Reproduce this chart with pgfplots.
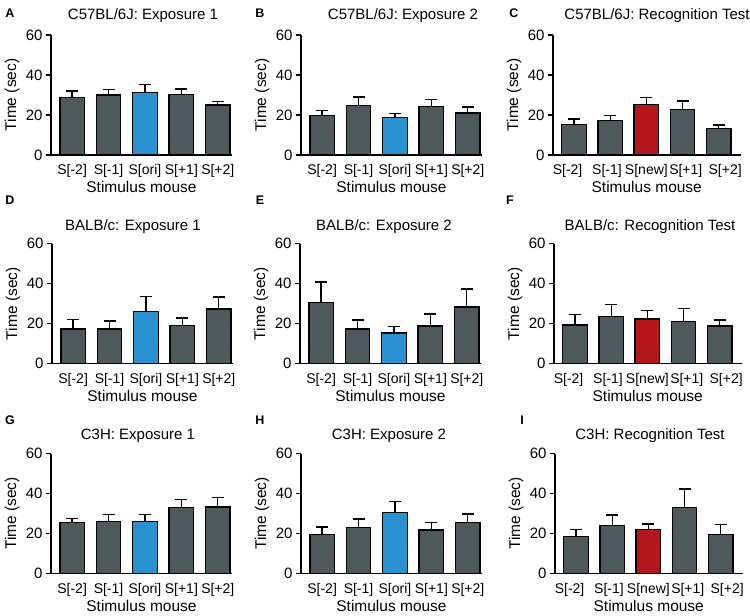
\documentclass[border=0pt]{standalone}
\usepackage{fontspec}
\setmainfont{Liberation Sans}
\usepackage{pgfplots}
\pgfplotsset{compat=1.18}
\definecolor{barg}{HTML}{4E595B}
\definecolor{barb}{HTML}{2A92D0}
\definecolor{barr}{HTML}{B3161B}
\pgfplotsset{
 panel/.style={
  scale only axis, width=181pt, height=120pt, anchor=south west,
  xmin=-0.58, xmax=4.39, ymin=0, ymax=60, enlargelimits=false,
  axis x line*=bottom, axis y line*=left,
  axis line style={line width=1.3pt,-},
  ytick={0,20,40,60}, xtick={0,1,2,3,4},
  tick align=outside, major tick length=5pt,
  ytick style={line width=1.3pt, black}, xtick style={draw=none},
  yticklabel style={font=\fontsize{15}{15}\selectfont},
  xticklabel style={font=\fontsize{14}{14}\selectfont, anchor=center, yshift=-11pt},
  /pgf/number format/assume math mode=true,
  ylabel={Time (sec)}, xlabel={Stimulus mouse},
  every axis y label/.style={at={(axis description cs:-0.215,0.5)}, rotate=90, anchor=center, font=\fontsize{15.5}{15.5}\selectfont},
  every axis x label/.style={at={(axis description cs:0.5,0)}, yshift=-32pt, anchor=center, font=\fontsize{15.5}{15.5}\selectfont},
  clip=false,
 },
 ori/.style={xticklabels={{S[-2]},{S[-1]},{S[ori]},{S[+1]},{S[+2]}}},
 new/.style={xticklabels={{S[-2]},{S[-1]},{S[new]},{S[+1]},{S[+2]}},
   width=187.5pt, xmax=4.6,
   every axis y label/.style={at={(axis description cs:-0.208,0.5)}, rotate=90, anchor=center, font=\fontsize{15.5}{15.5}\selectfont},
   xticklabel style={xshift={(\ticknum-2)*3.2pt}}},
 bb/.style={ybar, bar width=24.5pt, bar shift=0pt, draw=black, line width=1.3pt, fill=#1,
   error bars/.cd, y dir=plus, y explicit,
   error bar style={line width=1.3pt, black},
   error mark options={rotate=90, mark size=6pt, line width=1.3pt, black}},
}
\tikzset{ttl/.style={font=\fontsize{15}{15}\selectfont, anchor=center},
 lett/.style={font=\fontsize{12.5}{12.5}\selectfont\bfseries, anchor=center}}
\begin{document}
\begin{tikzpicture}[x=1pt,y=1pt]
\useasboundingbox (0,0) rectangle (750,616);
% ---------- Row 1
\begin{axis}[panel, ori, at={(51pt,461pt)}]
\addplot[bb=barg] coordinates {(0,28.7) +- (0,3.3) (1,30.0) +- (0,2.7) (3,30.3) +- (0,2.7) (4,25.0) +- (0,1.7)};
\addplot[bb=barb] coordinates {(2,31.3) +- (0,3.9)};
\end{axis}
\begin{axis}[panel, ori, at={(301pt,461pt)}]
\addplot[bb=barg] coordinates {(0,19.8) +- (0,2.4) (1,24.7) +- (0,4.3) (3,24.3) +- (0,3.4) (4,21.0) +- (0,3.0)};
\addplot[bb=barb] coordinates {(2,18.8) +- (0,1.9)};
\end{axis}
\begin{axis}[panel, new, at={(553pt,461pt)}]
\addplot[bb=barg] coordinates {(0,15.3) +- (0,2.7) (1,17.2) +- (0,2.5) (3,22.7) +- (0,4.3) (4,13.3) +- (0,1.7)};
\addplot[bb=barr] coordinates {(2,25.3) +- (0,3.4)};
\end{axis}
% ---------- Row 2
\begin{axis}[panel, ori, at={(52pt,252.3pt)}]
\addplot[bb=barg] coordinates {(0,17.3) +- (0,4.8) (1,17.3) +- (0,4.1) (3,19.1) +- (0,3.7) (4,27.4) +- (0,6.0)};
\addplot[bb=barb] coordinates {(2,26.2) +- (0,7.5)};
\end{axis}
\begin{axis}[panel, ori, at={(300pt,252.3pt)}]
\addplot[bb=barg] coordinates {(0,30.7) +- (0,10.2) (1,17.4) +- (0,4.5) (3,18.9) +- (0,6.0) (4,28.4) +- (0,9.0)};
\addplot[bb=barb] coordinates {(2,15.3) +- (0,3.3)};
\end{axis}
\begin{axis}[panel, new, at={(554pt,252.3pt)}]
\addplot[bb=barg] coordinates {(0,19.3) +- (0,5.3) (1,23.6) +- (0,6.1) (3,21.1) +- (0,6.6) (4,18.8) +- (0,3.1)};
\addplot[bb=barr] coordinates {(2,22.3) +- (0,4.4)};
\end{axis}
% ---------- Row 3
\begin{axis}[panel, ori, at={(51pt,42.5pt)}]
\addplot[bb=barg] coordinates {(0,25.4) +- (0,2.0) (1,26.0) +- (0,3.5) (3,33.0) +- (0,4.1) (4,33.2) +- (0,4.8)};
\addplot[bb=barb] coordinates {(2,26.0) +- (0,3.4)};
\end{axis}
\begin{axis}[panel, ori, at={(301pt,42.5pt)}]
\addplot[bb=barg] coordinates {(0,19.6) +- (0,3.7) (1,22.9) +- (0,4.3) (3,21.8) +- (0,3.8) (4,25.4) +- (0,4.3)};
\addplot[bb=barb] coordinates {(2,30.4) +- (0,5.6)};
\end{axis}
\begin{axis}[panel, new, at={(555pt,42.5pt)}]
\addplot[bb=barg] coordinates {(0,18.4) +- (0,3.7) (1,24.1) +- (0,5.1) (3,33.1) +- (0,9.1) (4,19.4) +- (0,5.0)};
\addplot[bb=barr] coordinates {(2,21.9) +- (0,2.9)};
\end{axis}
% ---------- Titles
\node[ttl] at (143,600) {C57BL/6J: Exposure 1};
\node[ttl] at (403,600) {C57BL/6J: Exposure 2};
\node[ttl] at (657,600) {C57BL/6J: Recognition Test};
\node[ttl] at (133,389) {BALB/c: Exposure 1};
\node[ttl] at (384,389) {BALB/c: Exposure 2};
\node[ttl] at (650,389) {BALB/c: Recognition Test};
\node[ttl] at (138,180) {C3H: Exposure 1};
\node[ttl] at (389,180) {C3H: Exposure 2};
\node[ttl] at (650,180) {C3H: Recognition Test};
% ---------- Panel letters
\node[lett] at (10,603) {A};
\node[lett] at (260,603) {B};
\node[lett] at (514,603) {C};
\node[lett] at (10,416) {D};
\node[lett] at (260,416) {E};
\node[lett] at (510,416) {F};
\node[lett] at (10,196) {G};
\node[lett] at (260,196) {H};
\node[lett] at (522,196) {I};
\end{tikzpicture}
\end{document}
